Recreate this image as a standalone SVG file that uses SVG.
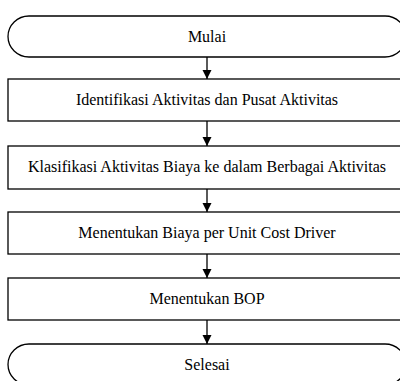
<svg xmlns="http://www.w3.org/2000/svg" width="400" height="381" viewBox="0 0 400 381">
<style>
.s{fill:#fff;stroke:#000;stroke-width:1.3}
.t{font-family:"Liberation Serif","Times New Roman",serif;font-size:16px;fill:#000;text-anchor:middle}
.c{stroke:#000;stroke-width:1.3;fill:none}
</style>
<defs>
<marker id="ah" markerUnits="userSpaceOnUse" markerWidth="10" markerHeight="13" refX="9" refY="4.5" orient="auto">
<path d="M0,0 L9,4.5 L0,9 Z" fill="#000"/>
</marker>
</defs>
<rect width="400" height="381" fill="#fff"/>
<g id="connectors">
<line class="c" x1="207" y1="57" x2="207" y2="79" marker-end="url(#ah)"/>
<line class="c" x1="207" y1="121" x2="207" y2="146" marker-end="url(#ah)"/>
<line class="c" x1="207" y1="189" x2="207" y2="212" marker-end="url(#ah)"/>
<line class="c" x1="207" y1="254" x2="207" y2="278" marker-end="url(#ah)"/>
<line class="c" x1="207" y1="320" x2="207" y2="344" marker-end="url(#ah)"/>
</g>
<g id="mulai">
<rect class="s" x="8" y="16" width="398" height="41" rx="21" ry="20.5"/>
<text class="t" x="207" y="41.5">Mulai</text>
</g>
<g id="identifikasi">
<rect class="s" x="8" y="79" width="398" height="42"/>
<text class="t" x="207" y="105">Identifikasi Aktivitas dan Pusat Aktivitas</text>
</g>
<g id="klasifikasi">
<rect class="s" x="8" y="146" width="398" height="43"/>
<text class="t" x="207" y="172">Klasifikasi Aktivitas Biaya ke dalam Berbagai Aktivitas</text>
</g>
<g id="menentukan-biaya">
<rect class="s" x="8" y="212" width="398" height="42"/>
<text class="t" x="207" y="238">Menentukan Biaya per Unit Cost Driver</text>
</g>
<g id="menentukan-bop">
<rect class="s" x="8" y="278" width="398" height="42"/>
<text class="t" x="207" y="304">Menentukan BOP</text>
</g>
<g id="selesai">
<rect class="s" x="8" y="344" width="398" height="41" rx="21" ry="20.5"/>
<text class="t" x="207" y="370">Selesai</text>
</g>
</svg>
